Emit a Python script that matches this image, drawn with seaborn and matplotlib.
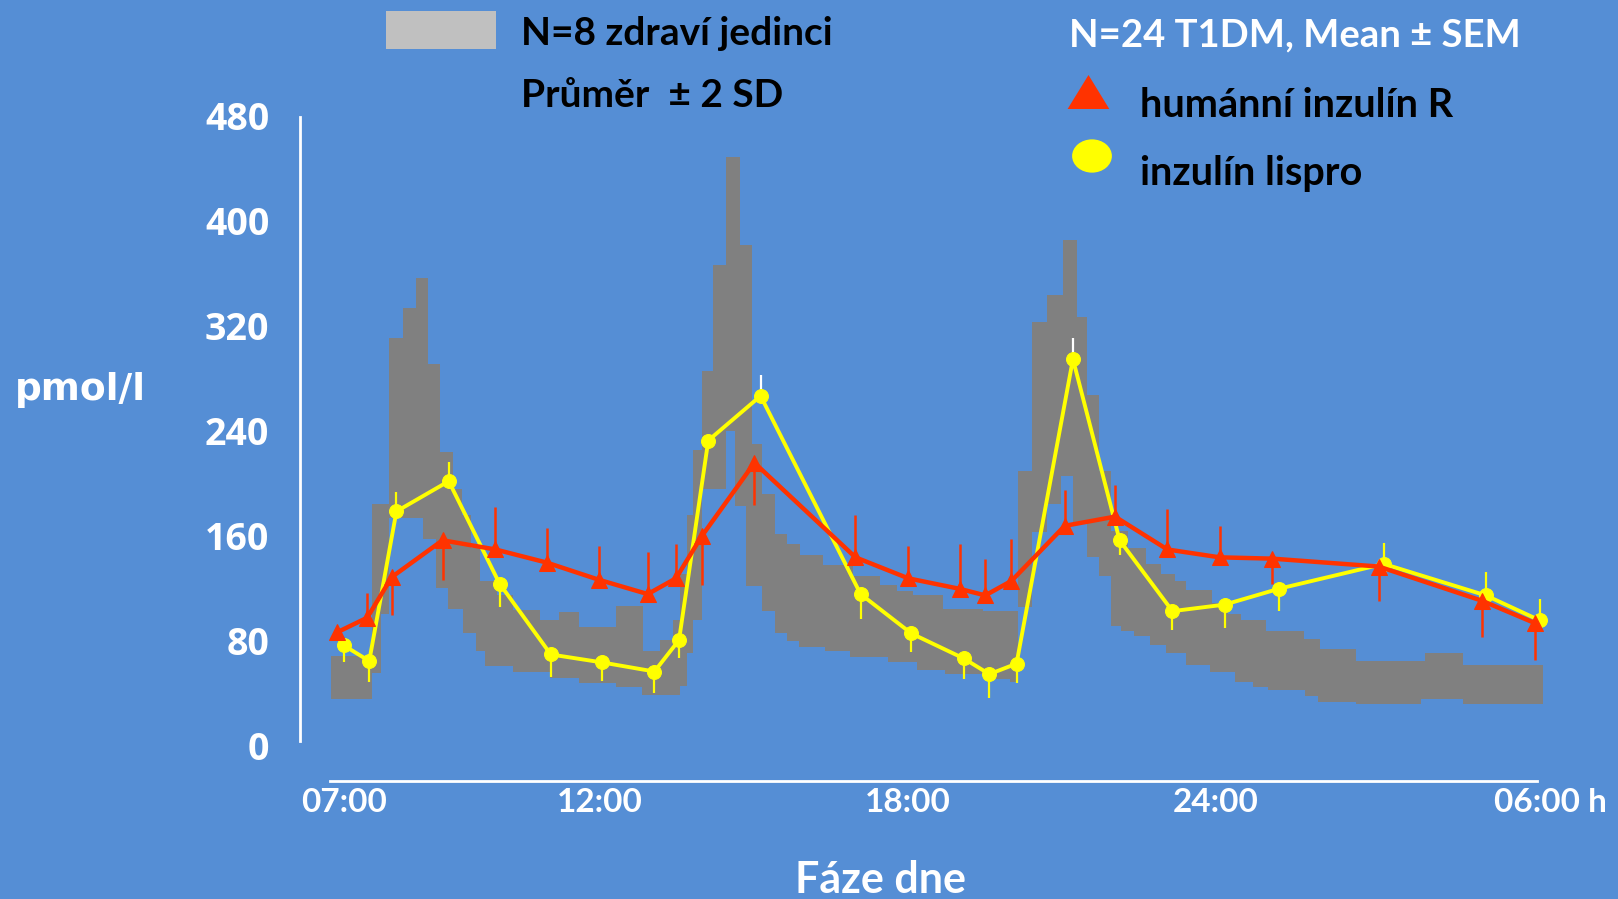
import numpy as np
import matplotlib
matplotlib.use("Agg")
import matplotlib.pyplot as plt
from matplotlib.patches import Rectangle, Ellipse, Polygon
from matplotlib.transforms import ScaledTranslation
import seaborn as sns

# --- data (hours from 07:00 = 7, next-morning 06:00 = 30; insulin in pmol/l) ---
red_hours = [6.88, 7.46, 7.94, 8.93, 9.96, 10.96, 11.97, 12.93, 13.48, 13.98, 15.01, 16.98,
             18.01, 19.01, 19.51, 20.02, 21.06, 22.04, 23.06, 24.08, 25.11, 27.18, 29.19, 30.22]
red_vals = [86, 97, 128, 156, 149, 139, 126, 115, 127, 159, 215, 143,
            127, 119, 114, 125, 167, 174, 149, 143, 142, 136, 110, 93]
# SEM drawn one-sided: positive = upward bar, negative = downward bar
red_sem = [0, 19, -29, -30, 32, 26, 26, 32, 26, -37, -32, 32,
           25, 34, 28, 32, 27, 24, 31, 24, -19, -26, -28, -28]

lispro_hours = [7.00, 7.50, 8.03, 9.05, 10.04, 11.04, 12.03, 13.06, 13.54, 14.11, 15.13, 17.08,
                18.07, 19.09, 19.59, 20.12, 21.22, 22.13, 23.16, 24.18, 25.23, 27.28, 29.27, 30.32]
lispro_vals = [76, 64, 178, 201, 123, 69, 63, 56, 80, 232, 266, 115,
               85, 66, 54, 62, 294, 156, 102, 107, 119, 138, 114, 95]
lispro_sem = [-13, -16, 15, 15, -18, -17, -14, -16, -14, 0, 16, -19,
              -14, -16, -18, -15, 16, -11, -14, -18, -17, 16, 18, 16]

# healthy subjects, mean +/- 2 SD, step edges (hours) and levels
band_hi_h = [6.75, 7.55, 7.89, 8.16, 8.42, 8.65, 8.87, 9.14, 9.31, 9.49,
             9.66, 9.99, 10.31, 10.83, 11.19, 11.58, 12.32, 12.84, 13.17, 13.43,
             13.56, 13.69, 13.82, 13.98, 14.21, 14.45, 14.73, 14.97, 15.15, 15.41,
             15.64, 15.90, 16.35, 16.94, 17.46, 17.79, 18.11, 18.69, 19.47, 20.15,
             20.43, 20.71, 21.03, 21.29, 21.49, 21.72, 21.97, 22.29, 22.64, 22.94,
             23.21, 23.42, 23.94, 24.24, 24.50, 24.99, 25.72, 26.03, 26.73, 28.08, 28.82]
band_hi = [68, 184, 310, 333, 356, 290, 223, 195, 175, 150,
           125, 114, 103, 95, 101, 90, 106, 72, 80, 95,
           130, 175, 225, 285, 366, 448, 381, 229, 191, 161,
           153, 145, 137, 129, 122, 117, 114, 104, 102, 209,
           322, 343, 385, 326, 267, 209, 163, 150, 138, 130,
           125, 118, 108, 100, 95, 87, 81, 73, 64, 70, 61]
band_lo_h = [6.75, 7.55, 7.72, 7.89, 8.55, 8.81, 9.04, 9.33, 9.59, 9.75,
             10.31, 11.03, 11.58, 12.32, 12.81, 13.56, 13.69, 13.82, 13.98, 14.45,
             14.63, 14.84, 15.15, 15.41, 15.64, 15.87, 16.39, 16.87, 17.62, 18.17,
             18.72, 19.47, 19.99, 20.15, 20.43, 20.71, 20.99, 21.22, 21.49, 21.72,
             21.97, 22.16, 22.41, 22.72, 23.04, 23.42, 23.89, 24.38, 24.74, 25.02,
             25.75, 26.00, 26.74, 28.01, 28.82]
band_lo = [35, 55, 100, 173, 157, 120, 104, 85, 72, 60,
           56, 51, 47, 44, 38, 45, 70, 95, 195, 239,
           182, 121, 102, 85, 79, 75, 72, 67, 63, 57,
           54, 50, 48, 105, 162, 184, 205, 170, 143, 129,
           91, 87, 83, 76, 70, 61, 56, 48, 44, 42,
           37, 33, 31, 35, 31]
band_end = 30.38

y_ticks = [0, 80, 160, 240, 320, 400, 480]
x_ticks = [7, 12, 18, 24, 30]
x_labels = ["07:00", "12:00", "18:00", "24:00", "06:00 h"]

BG = "#558ED5"
GREY = "#808080"
RED = "#FF3300"
YELLOW = "#FFFF00"

sns.set_theme(style="white", rc={"figure.facecolor": BG, "axes.facecolor": BG})
plt.rcParams["font.family"] = ["Lato", "DejaVu Sans"]

W, H = 1618, 899
fig = plt.figure(figsize=(W / 100, H / 100), dpi=100)
ax = fig.add_axes([300 / W, 1 - 781 / H, 1260 / W, 666 / H])
ax.set_xlim(6.15, 30.716)
ax.set_ylim(-27.4, 478.8)


def steps(edges, vals, end):
    x = np.repeat(np.append(edges, end), 2)[1:-1]
    y = np.repeat(vals, 2)
    return x, y


ux, uy = steps(band_hi_h, band_hi, band_end)
lx, ly = steps(band_lo_h, band_lo, band_end)
ax.fill(np.concatenate([ux, lx[::-1]]), np.concatenate([uy, ly[::-1]]),
        color=GREY, lw=0, zorder=1)

# lispro (yellow circles), bars white at the peaks
lv = np.array(lispro_vals)
bar_cols = ["white" if v > 250 else YELLOW for v in lv]
ax.vlines(lispro_hours, lv, lv + np.array(lispro_sem), colors=bar_cols, linewidth=1.6, zorder=2)
sns.lineplot(x=lispro_hours, y=lispro_vals, ax=ax, color=YELLOW, linewidth=2.8,
             marker="o", markersize=10, markeredgecolor=YELLOW, zorder=3)

# human regular insulin (red triangles)
rv = np.array(red_vals)
ax.vlines(red_hours, rv, rv + np.array(red_sem), colors=RED, linewidth=1.8, zorder=4)
sns.lineplot(x=red_hours, y=red_vals, ax=ax, color=RED, linewidth=3.2,
             marker="^", markersize=12, markeredgecolor=RED, zorder=5)

for s in ["top", "right"]:
    ax.spines[s].set_visible(False)
ax.spines["left"].set_color("white")
ax.spines["left"].set_linewidth(2)
ax.spines["left"].set_bounds(3, 478.8)
ax.spines["bottom"].set_color("white")
ax.spines["bottom"].set_linewidth(2)
ax.spines["bottom"].set_bounds(6.734, 30.277)
ax.grid(False)

ax.set_yticks(y_ticks)
ax.set_yticklabels([str(t) for t in y_ticks], family=["Open Sans", "DejaVu Sans"],
                   weight="bold", size=27, color="white")
ax.tick_params(axis="y", length=0, pad=22)
ax.set_xticks(x_ticks)
ax.set_xticklabels(x_labels, family=["Lato", "DejaVu Sans"],
                   weight="bold", size=24, color="white")
ax.tick_params(axis="x", length=0, pad=5)
last = ax.get_xticklabels()[-1]
last.set_transform(last.get_transform() + ScaledTranslation(0.27, 0, fig.dpi_scale_trans))
ax.set_xlabel("")
ax.set_ylabel("")

fig.text(14.5 / W, 1 - 390 / H, "pmol/l", family="DejaVu Sans", weight="bold",
         size=27, color="white", ha="left", va="center")
fig.text(881 / W, 1 - 893 / H, "Fáze dne", weight="bold", size=31, color="white",
         ha="center", va="baseline")

# legend block
fig.add_artist(Rectangle((385.6 / W, 1 - 49.3 / H), 110.8 / W, 38.3 / H,
                         transform=fig.transFigure, color="#C0C0C0", lw=0))
fig.text(521 / W, 1 - 45 / H, "N=8 zdraví jedinci", weight="bold", size=28, color="black")
fig.text(521 / W, 1 - 107.3 / H, "Průměr  ± 2 SD", weight="bold", size=28, color="black")
fig.text(1068.7 / W, 1 - 46.7 / H, "N=24 T1DM, Mean ± SEM", weight="bold", size=27.5, color="white")

tri = [(1067.6 / W, 1 - 109 / H), (1109.3 / W, 1 - 109 / H), (1088.5 / W, 1 - 75 / H)]
fig.add_artist(Polygon(tri, closed=True, transform=fig.transFigure, color=RED, lw=0))
fig.add_artist(Ellipse((1092 / W, 1 - 156 / H), 39.8 / W, 33.3 / H,
                       transform=fig.transFigure, color=YELLOW, lw=0))
fig.text(1140.3 / W, 1 - 117.3 / H, "humánní inzulín R", weight="bold", size=28.5, color="black")
fig.text(1140.3 / W, 1 - 185 / H, "inzulín lispro", weight="bold", size=28.5, color="black")

fig.savefig("out.png", dpi=100, facecolor=BG)
